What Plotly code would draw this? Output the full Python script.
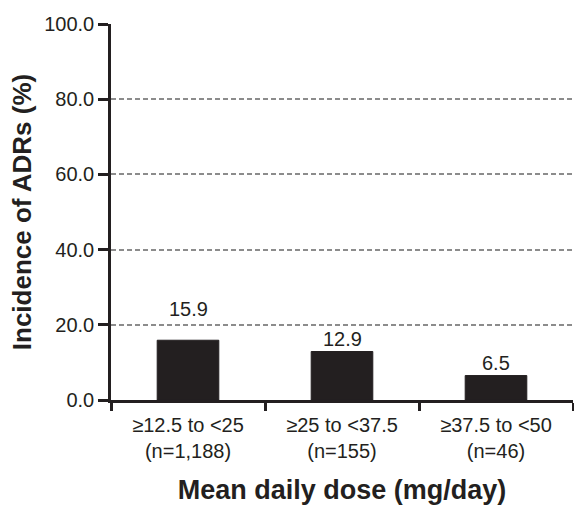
import plotly.graph_objects as go

categories = ["≥12.5 to <25<br>(n=1,188)", "≥25 to <37.5<br>(n=155)", "≥37.5 to <50<br>(n=46)"]
values = [15.9, 12.9, 6.5]
value_labels = ["15.9", "12.9", "6.5"]
y_ticks = [0, 20, 40, 60, 80, 100]

label_shift = [18, 0, 0]

fig = go.Figure()
fig.add_trace(go.Bar(
    x=categories, y=values,
    marker=dict(color="#231f20", line=dict(color="#231f20", width=1)),
    width=0.4,
))
for c, v, t, s in zip(categories, values, value_labels, label_shift):
    fig.add_annotation(x=c, y=v, text=t, showarrow=False, yanchor="bottom",
                       yshift=s, font=dict(size=20, color="#231f20"))

fig.update_layout(
    width=574, height=508,
    margin=dict(l=111, r=1, t=24, b=108),
    paper_bgcolor="white", plot_bgcolor="white",
    font=dict(family="Liberation Sans, Arial, sans-serif", color="#231f20"),
    showlegend=False,
)
fig.update_yaxes(
    range=[0, 100], tickvals=y_ticks, ticktext=[f"{v:.1f}" for v in y_ticks],
    showline=True, linecolor="#231f20", linewidth=2.5,
    ticks="outside", ticklen=10, tickwidth=2.5, tickcolor="#231f20",
    tickfont=dict(size=20),
    showgrid=True, gridcolor="#8c8c8c", gridwidth=1.5, griddash="5px,3px",
    zeroline=False,
    title=dict(text="<b>Incidence of ADRs (%)</b>", font=dict(size=26), standoff=6),
)
fig.update_xaxes(
    showline=True, linecolor="#231f20", linewidth=2.5,
    ticks="outside", ticklen=8, tickwidth=2.5, tickcolor="#231f20",
    tickson="boundaries", ticklabelstandoff=5,
    tickfont=dict(size=20),
    title=dict(text="<b>Mean daily dose (mg/day)</b>", font=dict(size=27), standoff=20),
)

fig.write_html("out.html", config={"displayModeBar": False},
               post_script="document.body.style.margin='0';")
